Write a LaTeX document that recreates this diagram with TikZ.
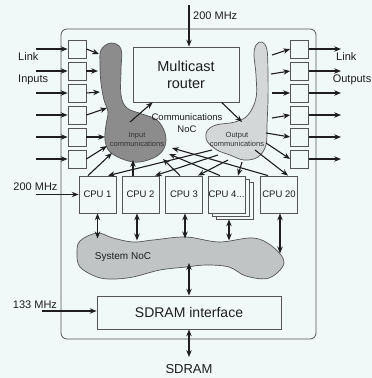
\documentclass[tikz,border=0pt]{standalone}
\usepackage{fontspec}
\setmainfont{Liberation Sans}
\usetikzlibrary{arrows.meta,positioning,calc}
\definecolor{paper}{RGB}{240,248,248}
\definecolor{ink}{RGB}{30,30,30}
\definecolor{edge}{RGB}{85,85,85}
\definecolor{inblob}{RGB}{140,140,140}
\definecolor{outblob}{RGB}{212,215,215}
\definecolor{sysblob}{RGB}{192,196,196}
\tikzset{
  port/.style={draw=edge,fill=paper,minimum size=18pt,inner sep=0pt,line width=0.8pt},
  cpu/.style={draw=edge,fill=paper,minimum width=37pt,minimum height=37pt,inner sep=0pt,line width=0.8pt,font=\fontsize{9.5}{10}\selectfont,text=ink},
  bigbox/.style={draw=edge,fill=paper,inner sep=0pt,line width=0.8pt,text=ink},
  arr/.style={-{Stealth[length=2.4mm,width=1.9mm]},line width=1.1pt,draw=ink},
  darr/.style={{Stealth[length=2.4mm,width=1.9mm]}-{Stealth[length=2.4mm,width=1.9mm]},line width=1.1pt,draw=ink},
  lbl/.style={font=\fontsize{11}{12}\selectfont,text=ink,inner sep=0pt},
  tinytxt/.style={font=\fontsize{7.5}{8.5}\selectfont,text=ink!90,align=center,inner sep=0pt},
  blob/.style={draw=edge,line width=0.7pt},
}

\begin{document}
\begin{tikzpicture}[x=1pt,y=-1pt]
\fill[paper] (0,0) rectangle (372,378);
\useasboundingbox (0,0) rectangle (372,378);
\draw[edge,line width=0.8pt,rounded corners=6pt] (61,29) rectangle (316,339);

\filldraw[blob,fill=inblob] plot[smooth cycle,tension=0.6] coordinates {
  (111,43) (121,49) (121,70) (121,95) (127,108) (142,114) (157,120) (165,133)
  (165,146) (157,156) (140,162) (125,160) (110,152) (105,140) (106,125)
  (108,112) (104,100) (101,83) (100,65) (101,50)};
\filldraw[blob,fill=outblob] plot[smooth cycle,tension=0.6] coordinates {
  (262,42) (267,50) (268,75) (268,100) (267,125) (266,145) (258,157) (244,160)
  (230,155) (217,150) (207,141) (207,131) (216,125) (235,122) (248,115)
  (256,98) (256,75) (254,55) (256,45)};
\filldraw[blob,fill=sysblob] plot[smooth cycle,tension=0.6] coordinates {
  (77,253) (80,241) (97,233) (113,238) (133,242) (153,240) (186,237) (219,242)
  (253,238) (273,247) (284,263) (269,278) (246,276) (229,267) (206,265)
  (186,267) (160,270) (133,277) (113,279) (97,277) (80,267)};
\node[tinytxt] (intxt) at (137,139.5) {Input\\communications};
\node[tinytxt] (outtxt) at (237,139.5) {Output\\communications};
\node[lbl,font=\fontsize{10}{11}\selectfont] (systxt) at (123,257) {System NoC};
\node[lbl,font=\fontsize{9.5}{12}\selectfont,align=center] (noctxt) at (187,123) {Communications\\NoC};

\foreach \i in {1,...,6}{
  \pgfmathsetmacro{\py}{27+22*\i}
  \node[port] (in\i) at (77,\py) {};
  \node[port] (out\i) at (299.5,\py) {};
  \coordinate (inL\i) at (36,\py);
  \coordinate (outR\i) at (341,\py);
  \draw[arr] (inL\i) -- (in\i);
  \draw[arr] (out\i) -- (outR\i);
}
\foreach \i/\a/\b in {1/99/54,2/98/71,3/100/92,4/107/108,5/105/137,6/107/146}{
  \coordinate (ic\i) at (\a,\b);
  \draw[arr] (in\i.east) -- (ic\i);
}
\foreach \i/\a/\b in {1/272/55,2/271/74,3/272/93,4/272/118,5/266/133,6/266/143}{
  \coordinate (oc\i) at (\a,\b);
  \draw[arr] (oc\i) -- (out\i.west);
}
\node[lbl] (lnkin) at (18,57) [anchor=west] {Link};
\node[lbl] (inps) at (18,80) [anchor=west] {Inputs};
\node[lbl] (lnkout) at (336,57) [anchor=west] {Link};
\node[lbl] (outps) at (371.5,80) [anchor=east] {Outputs};

\node[bigbox,minimum width=106pt,minimum height=55pt,align=center,
  font=\fontsize{14.5}{17}\selectfont] (router) at (186,74.5) {Multicast\\router};
\coordinate (clkT) at (189,5);
\draw[arr] (clkT) -- (clkT |- router.north);
\node[lbl,anchor=west] (clkTtxt) at (193,16) {200 MHz};
\coordinate (rin) at (130,122);
\coordinate (rout) at (242,122);
\draw[arr] (rin) -- ($(router.south west)+(20,0)$);
\draw[arr] ($(router.south west)+(89,0)$) -- (rout);

\node[cpu] (cpu1) at (97.5,194.5) {CPU 1};
\node[cpu] (cpu2) at (140.5,194.5) {CPU 2};
\node[cpu] (cpu3) at (184,194.5) {CPU 3};
\node[cpu] (cpu4c) at (234.5,200.5) {};
\node[cpu] (cpu4b) at (230.5,197.5) {};
\node[cpu] (cpu4) at (226.5,194.5) {CPU 4...};
\node[cpu] (cpu20) at (279,194.5) {CPU 20};
\coordinate (clkC) at (36,194.5);
\draw[arr] (clkC) -- (cpu1.west);
\node[lbl] (clkCtxt) at (35.5,187) {200 MHz};

\foreach \c/\dx/\a/\b [count=\k] in {cpu1/-9.5/112/153,cpu2/-7.5/133/160,
    cpu3/-4/163/159,cpu4/-6.5/169/154,cpu20/-11/172/148}{
  \coordinate (icpu\k) at (\a,\b);
  \draw[arr] ($(\c.north)+(\dx,0)$) -- (icpu\k);
}
\foreach \c/\dx/\a/\b [count=\k] in {cpu1/10.5/212/150,cpu2/14.5/218/155,
    cpu3/14/228/160,cpu4/11.5/242/162,cpu20/9/255/150}{
  \coordinate (ocpu\k) at (\a,\b);
  \draw[arr] (ocpu\k) -- ($(\c.north)+(\dx,0)$);
}
\foreach \c/\dx/\len in {cpu1/0/25,cpu2/-3.5/27,cpu3/1/25,cpu4c/-5.5/21,cpu20/1/40}{
  \draw[darr] ($(\c.south)+(\dx,0)$) -- ($(\c.south)+(\dx,\len)$);
}

\node[bigbox,minimum width=184pt,minimum height=33pt,
  font=\fontsize{14}{16}\selectfont] (sdram) at (189,312.5) {SDRAM interface};
\coordinate (snocS) at (189,263);
\draw[darr] (snocS) -- (snocS |- sdram.north);
\coordinate (clkS) at (42,311);
\draw[arr] (clkS) -- (clkS -| sdram.west);
\node[lbl] (clkStxt) at (35,305) {133 MHz};
\coordinate (ram) at (189,357);
\draw[darr] (sdram.south -| ram) -- (ram);
\node[lbl,font=\fontsize{13}{14}\selectfont] (ramtxt) at (189,369) {SDRAM};
\end{tikzpicture}
\end{document}
